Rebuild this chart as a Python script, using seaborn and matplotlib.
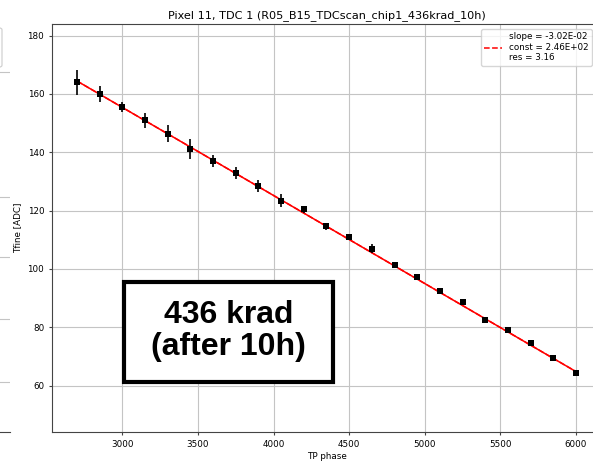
import numpy as np
import pandas as pd
import matplotlib
matplotlib.use("Agg")
import matplotlib.pyplot as plt
import seaborn as sns
from matplotlib.patches import Rectangle, FancyBboxPatch

# data
tp_phase = [2700, 2850, 3000, 3150, 3300, 3450, 3600, 3750, 3900, 4050, 4200, 4350,
            4500, 4650, 4800, 4950, 5100, 5250, 5400, 5550, 5700, 5850, 6000]
tfine_mean = [164.0, 160.1, 155.6, 151.0, 146.4, 141.2, 137.1, 132.9, 128.5, 123.4, 120.5, 114.6,
              110.9, 106.9, 101.3, 97.3, 92.5, 88.8, 82.6, 79.2, 74.7, 69.6, 64.2]
tfine_err = [4.3, 2.7, 1.8, 2.5, 2.9, 3.4, 2.1, 1.9, 2.0, 2.3, 1.2, 1.2,
             0.8, 1.5, 0.9, 1.0, 1.1, 0.8, 0.6, 0.8, 0.7, 0.7, 0.6]
fit_slope = -3.02e-2
fit_const = 2.46e2
fit_res = 3.16
title = "Pixel 11, TDC 1 (R05_B15_TDCscan_chip1_436krad_10h)"
note = "436 krad\n(after 10h)"

df = pd.DataFrame({"tp": tp_phase, "tfine": tfine_mean, "err": tfine_err})
df["fit"] = fit_const + fit_slope * df["tp"]

plt.rcParams["font.family"] = ["DejaVu Sans"]
fig = plt.figure(figsize=(5.93, 4.62), dpi=100)

# main axes (right edge runs a little past the cropped image)
ax = fig.add_axes([52 / 593, 1 - 432 / 462, 549 / 593, 408 / 462])

# piece of the neighbouring panel that shows at the left edge
ghost = fig.add_axes([-0.3, 1 - 432 / 462, 0.3 + 10 / 593, 408 / 462])
ghost.set_xlim(0, 1)
ghost.set_ylim(0, 1)
ghost.set_yticks([0.1225, 0.277, 0.429, 0.576, 0.882])
ghost.set_xticks([])
ghost.tick_params(left=False, labelleft=False)
ghost.grid(True, axis="y", color="#c4c4c4", lw=0.8)
for s in ["top", "right", "left"]:
    ghost.spines[s].set_visible(False)
ghost.spines["bottom"].set_color("#444444")
fig.add_artist(FancyBboxPatch((-0.05, 1 - 67 / 462), 0.05 + 2 / 593, 39 / 462,
                              boxstyle="round,pad=0,rounding_size=0.004",
                              transform=fig.transFigure, fc="white", ec="#cccccc", lw=0.8))

sns.lineplot(data=df, x="tp", y="fit", ax=ax, color="red", lw=1.1, zorder=2)
sns.lineplot(data=df, x="tp", y="fit", ax=ax, color="red", lw=1.1, ls="--", zorder=2,
             label="slope = %.2E\nconst = %.2E\nres = %.2f" % (fit_slope, fit_const, fit_res))
ax.errorbar(df["tp"], df["tfine"], yerr=df["err"], fmt="none", ecolor="black",
            elinewidth=1.2, zorder=3)
sns.scatterplot(data=df, x="tp", y="tfine", ax=ax, marker="s", color="black",
                s=25, linewidth=0, zorder=4)

ax.set_xlim(2535, 6165)
ax.set_ylim(44.1, 184)
ax.set_xticks([3000, 3500, 4000, 4500, 5000, 5500, 6000])
ax.set_yticks([60, 80, 100, 120, 140, 160, 180])
ax.grid(True, color="#c4c4c4", lw=0.8)
ax.set_axisbelow(True)
ax.tick_params(labelsize=6.3, length=2.2, pad=3.4, width=0.8, color="#444444")
for s in ax.spines.values():
    s.set_color("#444444")
    s.set_linewidth(0.8)

ax.set_title(title, fontsize=8.1, pad=4)
ax.set_xlabel("TP phase", fontsize=6.3, labelpad=2)
ax.set_ylabel("Tfine [ADC]", fontsize=6.3, labelpad=4)

leg = ax.legend(loc="upper right", bbox_to_anchor=(0.9836, 0.988), borderaxespad=0,
                fontsize=6.3, handlelength=2.0, frameon=True)

# annotation box
ax.add_patch(Rectangle((0.131, 0.1225), 0.381, 0.2455, transform=ax.transAxes,
                       fc="white", ec="black", lw=3.0, zorder=5))
ax.text(0.3215, 0.2475, note, transform=ax.transAxes, ha="center", va="center",
        fontsize=23, fontweight="bold", family="Liberation Sans", linespacing=1.05,
        zorder=6)

fig.savefig("out.png", dpi=100)
